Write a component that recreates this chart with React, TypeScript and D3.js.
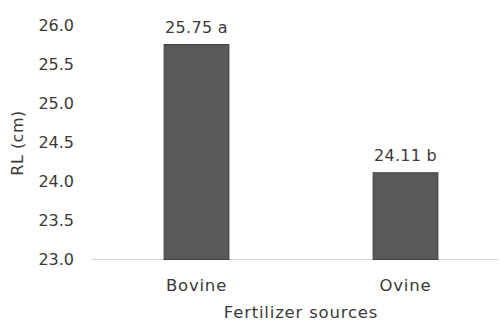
import React from "react";
import * as d3 from "d3";

const categories = ["Bovine", "Ovine"];
const values = [25.75, 24.11];
const valueLabels = ["25.75 a", "24.11 b"];
const yTicks = [23.0, 23.5, 24.0, 24.5, 25.0, 25.5, 26.0];

const W = 500;
const H = 322;
const FONT = "'DejaVu Sans', sans-serif";
const TEXT = "#3a3a3a";

export default function App() {
  const y = d3.scaleLinear().domain([23, 26]).range([259.5, 25]);
  const x = d3.scaleBand<string>().domain(categories).range([92, 510]).paddingInner(0.69).paddingOuter(0.345);
  return (
    <svg width={W} height={H} style={{ position: "absolute", left: 0, top: 0, background: "#fff" }} fontFamily={FONT}>
      <line x1={92} x2={498} y1={y(23)} y2={y(23)} stroke="#d0d0d0" strokeWidth={1.2} />
      {yTicks.map((t) => (
        <text key={t} x={74} y={y(t)} dy="0.36em" textAnchor="end" fontSize={16} fill={TEXT}>
          {t.toFixed(1)}
        </text>
      ))}
      {categories.map((c, i) => (
        <g key={c}>
          <rect
            x={x(c)!}
            y={y(values[i])}
            width={x.bandwidth()}
            height={y(23) - y(values[i])}
            fill="#595959"
            stroke="#404040"
            strokeWidth={1}
          />
          <text x={x(c)! + x.bandwidth() / 2} y={y(values[i]) - 12} textAnchor="middle" fontSize={16} fill={TEXT} letterSpacing={0.3}>
            {valueLabels[i]}
          </text>
          <text x={x(c)! + x.bandwidth() / 2} y={291} textAnchor="middle" fontSize={16.5} fill={TEXT} letterSpacing={0.8}>
            {c}
          </text>
        </g>
      ))}
      <text x={301} y={318} textAnchor="middle" fontSize={16.5} fill={TEXT} letterSpacing={0.8}>
        Fertilizer sources
      </text>
      <text transform="translate(23,143) rotate(-90)" textAnchor="middle" fontSize={16} fill={TEXT} letterSpacing={0.5}>
        RL (cm)
      </text>
    </svg>
  );
}
